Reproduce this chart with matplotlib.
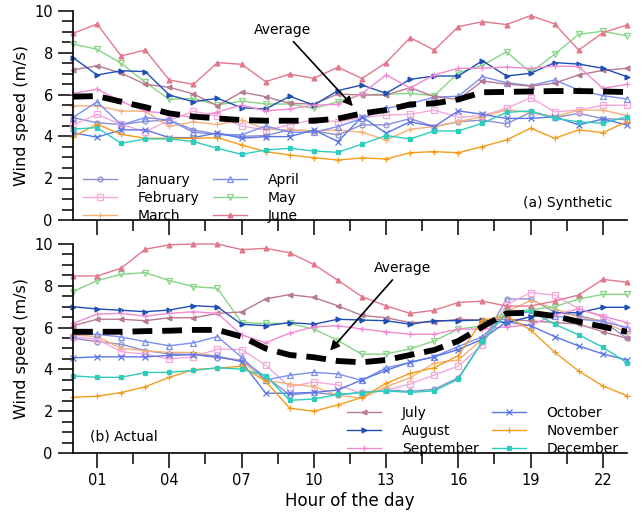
import matplotlib
matplotlib.use("Agg")
import matplotlib.pyplot as plt
from matplotlib.ticker import MultipleLocator, FixedLocator
import numpy as np

hours = list(range(24))
hour_ticks = [1, 4, 7, 10, 13, 16, 19, 22]
hour_labels = ["01", "04", "07", "10", "13", "16", "19", "22"]
months = ["January", "February", "March", "April", "May", "June",
          "July", "August", "September", "October", "November", "December"]

# Synthetic hourly wind speed profiles (m/s)
syn_jan = [4.90, 4.65, 4.57, 4.72, 4.78, 4.31, 4.10, 4.00, 4.04, 4.31, 4.26, 4.07, 4.55, 4.55, 4.85, 4.47, 4.70, 4.78, 4.60, 5.15, 4.90, 5.10, 4.85, 4.80]
syn_feb = [4.55, 5.05, 4.57, 4.23, 4.77, 5.20, 4.98, 4.50, 4.30, 4.55, 4.80, 4.70, 4.90, 5.02, 5.06, 5.26, 4.91, 5.00, 5.34, 5.85, 5.18, 5.26, 5.49, 5.49]
syn_mar = [5.46, 5.46, 5.22, 5.20, 4.48, 4.70, 4.57, 4.78, 4.35, 4.30, 4.27, 4.30, 4.20, 3.83, 4.34, 4.47, 4.70, 4.94, 5.27, 5.15, 4.95, 5.25, 5.25, 5.00]
syn_apr = [4.90, 5.66, 4.55, 4.90, 4.78, 4.20, 4.10, 4.07, 4.50, 4.20, 4.20, 4.47, 4.86, 5.34, 5.56, 5.88, 5.92, 6.86, 6.57, 6.43, 6.70, 6.22, 5.95, 5.79]
syn_may = [8.42, 8.17, 7.50, 6.59, 5.77, 5.82, 5.50, 5.69, 5.55, 5.55, 5.34, 5.66, 6.00, 6.01, 6.06, 5.95, 7.04, 7.40, 8.05, 7.06, 7.93, 8.89, 9.03, 8.81]
syn_jun = [8.93, 9.38, 7.85, 8.13, 6.70, 6.49, 7.53, 7.45, 6.62, 6.98, 6.78, 7.31, 6.77, 7.53, 8.72, 8.13, 9.25, 9.49, 9.35, 9.78, 9.38, 8.13, 8.96, 9.33]
syn_jul = [7.18, 7.38, 7.03, 6.49, 6.35, 6.03, 5.46, 6.12, 5.90, 5.58, 5.55, 6.03, 5.98, 5.98, 6.33, 5.90, 5.77, 6.65, 6.50, 6.41, 6.55, 6.94, 7.16, 7.26]
syn_aug = [7.77, 6.94, 7.14, 7.10, 5.98, 5.66, 5.82, 5.37, 5.31, 5.92, 5.50, 6.19, 6.46, 6.06, 6.73, 6.89, 6.89, 7.62, 6.89, 7.02, 7.53, 7.46, 7.26, 6.86]
syn_sep = [6.05, 6.26, 5.67, 5.20, 5.10, 4.89, 5.17, 5.50, 5.22, 5.31, 5.50, 5.53, 6.05, 6.94, 6.32, 6.94, 7.26, 7.26, 7.32, 7.26, 7.37, 7.34, 6.30, 6.49]
syn_oct = [4.18, 3.96, 4.31, 4.31, 3.94, 3.94, 4.17, 3.91, 3.99, 3.99, 4.31, 3.75, 4.94, 4.15, 4.70, 4.47, 5.22, 5.06, 4.86, 4.86, 4.94, 4.55, 4.83, 4.55]
syn_nov = [3.99, 4.58, 4.10, 3.91, 3.91, 3.91, 3.94, 3.59, 3.27, 3.11, 2.98, 2.87, 2.97, 2.92, 3.22, 3.27, 3.22, 3.51, 3.83, 4.39, 3.91, 4.31, 4.18, 4.70]
syn_dec = [4.35, 4.42, 3.67, 3.88, 3.88, 3.75, 3.43, 3.14, 3.35, 3.43, 3.30, 3.24, 3.63, 4.04, 3.88, 4.26, 4.26, 4.63, 5.15, 5.22, 4.86, 4.70, 4.63, 4.94]
syn_avg = [5.90, 5.93, 5.66, 5.40, 5.10, 4.95, 4.86, 4.78, 4.75, 4.75, 4.75, 4.85, 5.10, 5.26, 5.53, 5.58, 5.77, 6.11, 6.13, 6.15, 6.17, 6.17, 6.15, 6.12]

# Measured hourly wind speed profiles (m/s)
act_jan = [5.49, 5.33, 5.20, 4.90, 4.74, 4.72, 4.56, 4.45, 3.65, 2.78, 2.89, 2.78, 2.90, 3.00, 2.95, 3.05, 3.60, 5.30, 7.37, 7.37, 6.75, 6.57, 6.30, 5.50]
act_feb = [5.55, 5.45, 4.85, 4.72, 4.50, 4.60, 4.97, 4.95, 4.20, 3.17, 3.40, 3.25, 2.85, 3.00, 3.30, 3.73, 4.16, 5.17, 7.10, 7.67, 7.56, 6.90, 6.50, 5.90]
act_mar = [5.65, 5.57, 5.01, 4.89, 4.81, 4.81, 4.62, 4.40, 3.48, 3.30, 3.17, 2.76, 2.62, 3.17, 3.60, 4.30, 4.45, 5.45, 6.75, 7.30, 6.90, 6.50, 6.30, 5.75]
act_apr = [5.67, 5.68, 5.55, 5.33, 5.13, 5.27, 5.57, 4.58, 3.49, 3.72, 3.86, 3.78, 3.47, 4.08, 4.32, 4.61, 5.09, 5.57, 6.65, 6.75, 6.55, 6.40, 6.30, 6.00]
act_may = [7.72, 8.25, 8.55, 8.63, 8.25, 7.96, 7.88, 6.24, 6.20, 6.20, 5.93, 5.38, 4.72, 4.74, 4.98, 5.36, 5.93, 6.08, 6.76, 6.85, 7.00, 7.37, 7.59, 7.59]
act_jun = [8.47, 8.47, 8.84, 9.75, 9.96, 10.00, 10.00, 9.73, 9.79, 9.58, 9.02, 8.26, 7.48, 7.04, 6.68, 6.83, 7.20, 7.27, 7.03, 7.03, 7.27, 7.56, 8.31, 8.17]
act_jul = [6.09, 6.40, 6.40, 6.33, 6.47, 6.47, 6.68, 6.75, 7.37, 7.58, 7.44, 7.04, 6.58, 6.47, 6.24, 6.27, 6.40, 6.36, 6.40, 6.32, 6.24, 6.17, 5.80, 5.49]
act_aug = [7.00, 6.89, 6.83, 6.76, 6.84, 7.05, 6.99, 6.16, 6.09, 6.24, 6.16, 6.40, 6.36, 6.33, 6.16, 6.33, 6.33, 6.36, 6.24, 6.52, 6.71, 6.71, 6.97, 6.97]
act_sep = [6.20, 6.65, 6.68, 6.55, 6.68, 6.76, 6.68, 5.65, 5.28, 5.73, 6.04, 6.09, 5.93, 5.80, 5.68, 5.68, 5.93, 5.93, 6.04, 6.12, 6.60, 6.90, 6.55, 6.24]
act_oct = [4.55, 4.60, 4.60, 4.60, 4.67, 4.70, 4.62, 4.37, 2.86, 2.86, 2.90, 3.01, 3.50, 3.95, 4.35, 4.60, 4.95, 5.45, 6.28, 6.09, 5.57, 5.12, 4.74, 4.45]
act_nov = [2.66, 2.72, 2.89, 3.17, 3.62, 3.99, 4.06, 4.15, 3.43, 2.14, 2.00, 2.30, 2.66, 3.33, 3.81, 4.08, 4.66, 6.35, 6.55, 5.89, 4.82, 3.92, 3.21, 2.74]
act_dec = [3.69, 3.62, 3.62, 3.85, 3.86, 3.95, 4.08, 4.01, 3.70, 2.52, 2.58, 2.80, 2.89, 2.97, 2.90, 2.97, 3.54, 5.35, 6.68, 6.79, 6.16, 5.65, 5.06, 4.32]
act_avg = [5.80, 5.80, 5.80, 5.83, 5.85, 5.89, 5.89, 5.57, 5.00, 4.69, 4.58, 4.40, 4.34, 4.45, 4.69, 4.93, 5.36, 6.04, 6.68, 6.71, 6.55, 6.28, 6.04, 5.80]

syn_series = [syn_jan, syn_feb, syn_mar, syn_apr, syn_may, syn_jun,
              syn_jul, syn_aug, syn_sep, syn_oct, syn_nov, syn_dec]
act_series = [act_jan, act_feb, act_mar, act_apr, act_may, act_jun,
              act_jul, act_aug, act_sep, act_oct, act_nov, act_dec]

styles = [
    dict(color="#8a8fcf", marker="o", mfc="none", ms=3.5),
    dict(color="#f5a8dc", marker="s", mfc="none", ms=5),
    dict(color="#f5b078", marker="+", ms=5),
    dict(color="#7b8ff0", marker="^", mfc="none", ms=4),
    dict(color="#86d486", marker="v", mfc="none", ms=4),
    dict(color="#e2788c", marker="^", ms=3.5),
    dict(color="#b77a92", marker="<", ms=3.5),
    dict(color="#1f4fb5", marker=">", ms=3.5),
    dict(color="#f08ad2", marker="+", ms=5),
    dict(color="#5a76e6", marker="x", ms=4),
    dict(color="#f39c1c", marker="+", ms=5),
    dict(color="#2ccdbd", marker="s", ms=3.5),
]

plt.rcParams["font.family"] = ["DejaVu Sans"]
W, H = 643, 514
fig = plt.figure(figsize=(W / 100, H / 100), dpi=100)
ax1 = fig.add_axes([0.1135, 0.572, 0.8615, 0.4066])
ax2 = fig.add_axes([0.1135, 0.1187, 0.8615, 0.4066])


def style_axes(ax, show_xlabels):
    ax.set_xlim(0, 23)
    ax.set_ylim(0, 10)
    for s in ("top", "right"):
        ax.spines[s].set_visible(False)
    ax.spines["left"].set_linewidth(1.2)
    ax.spines["bottom"].set_linewidth(1.2)
    ax.xaxis.set_major_locator(FixedLocator(hour_ticks))
    ax.xaxis.set_minor_locator(FixedLocator([2.5, 5.5, 8.5, 11.5, 14.5, 17.5, 20.5]))
    ax.yaxis.set_major_locator(MultipleLocator(2))
    ax.yaxis.set_minor_locator(MultipleLocator(0.5))
    ax.tick_params(which="major", direction="out", length=11, width=1.1, labelsize=10.5)
    ax.tick_params(which="minor", direction="out", length=8, width=1.1)
    if show_xlabels:
        ax.set_xticklabels(hour_labels)
    else:
        ax.set_xticklabels([])
    ax.set_ylabel("Wind speed (m/s)", fontsize=11.5, labelpad=4)


def draw_panel(ax, series, avg):
    handles = []
    for name, vals, st in zip(months, series, styles):
        h, = ax.plot(hours, vals, lw=1.0, markeredgewidth=0.9, label=name,
                     clip_on=False, **st)
        handles.append(h)
    ax.plot(hours, avg, color="black", lw=4.2, dashes=(3.4, 1.7), zorder=5)
    return handles


h1 = draw_panel(ax1, syn_series, syn_avg)
h2 = draw_panel(ax2, act_series, act_avg)
style_axes(ax1, False)
style_axes(ax2, True)
ax2.set_xlabel("Hour of the day", fontsize=12, labelpad=3)

leg_kw = dict(ncol=2, frameon=False, fontsize=10, handlelength=2.45,
              handletextpad=1.5, columnspacing=0.95, labelspacing=0.28,
              borderpad=0, borderaxespad=0, loc="upper left",
              bbox_transform=fig.transFigure)
fig.legend(h1[:6], months[:6], bbox_to_anchor=(83 / W, 1 - 173 / H), **leg_kw)
fig.legend(h2[6:], months[6:], bbox_to_anchor=(347 / W, 1 - 406 / H), **leg_kw)

ax1.text(0.973, 0.08, "(a) Synthetic", transform=ax1.transAxes, ha="right",
         va="center", fontsize=10)
ax2.text(0.03, 0.08, "(b) Actual", transform=ax2.transAxes, ha="left",
         va="center", fontsize=10)

arrow = dict(arrowstyle="-|>", color="black", lw=1.2, mutation_scale=14)
ax1.annotate("Average", xy=(11.7, 5.35), xytext=(8.7, 9.1), fontsize=10,
             ha="center", va="center", arrowprops=arrow)
ax2.annotate("Average", xy=(10.6, 4.8), xytext=(13.7, 8.85), fontsize=10,
             ha="center", va="center", arrowprops=arrow)

fig.savefig("out.png", dpi=100)
